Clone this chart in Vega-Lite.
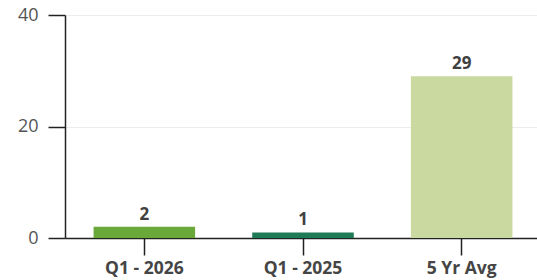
{
  "$schema": "https://vega.github.io/schema/vega-lite/v6.json",
  "autosize": "none",
  "padding": {"left": 65, "top": 15, "right": 0, "bottom": 42},
  "width": 476,
  "height": 223,
  "background": "white",
  "data": {"values": [
    {"period": "Q1 - 2026", "value": 2, "color": "#6aa83a"},
    {"period": "Q1 - 2025", "value": 1, "color": "#1e7b55"},
    {"period": "5 Yr Avg", "value": 29, "color": "#c9d99f"}
  ]},
  "config": {"view": {"stroke": null}, "font": "Open Sans"},
  "encoding": {
    "x": {"field": "period", "type": "nominal", "sort": null,
      "scale": {"paddingInner": 0.36, "paddingOuter": 0.18},
      "axis": {"title": null, "labelAngle": 0, "domainColor": "#222", "domainWidth": 1.5,
        "tickColor": "#222", "tickSize": 17, "tickWidth": 1.5, "labelPadding": 4,
        "labelFontSize": 17.5, "labelFontWeight": "bold", "labelColor": "#454545", "labelFont": "Open Sans"}},
    "y": {"field": "value", "type": "quantitative",
      "scale": {"domain": [0, 40]},
      "axis": {"title": null, "values": [0, 20, 40], "domainColor": "#222", "domainWidth": 1.5,
        "tickColor": "#222", "tickSize": 17, "tickWidth": 1.5, "labelPadding": 10,
        "labelFontSize": 18, "labelColor": "#555", "labelFontWeight": "normal",
        "gridColor": "#ececec", "gridWidth": 1}}
  },
  "layer": [
    {"mark": {"type": "bar"},
     "encoding": {"color": {"field": "color", "type": "nominal", "scale": null}}},
    {"mark": {"type": "text", "baseline": "bottom", "dy": -3, "fontSize": 17, "fontWeight": "bold", "color": "#404040"},
     "encoding": {"text": {"field": "value", "type": "quantitative"}}}
  ]
}
